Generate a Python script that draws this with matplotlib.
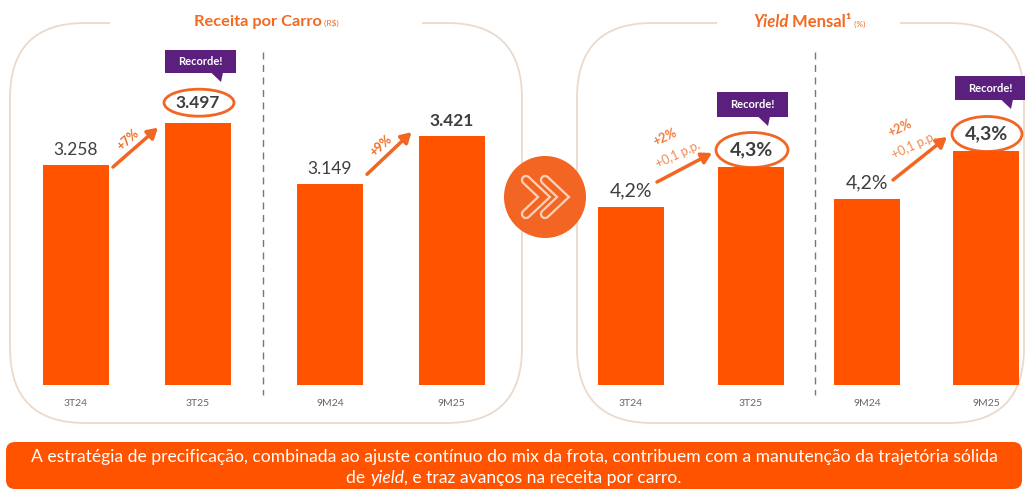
import matplotlib
matplotlib.use("Agg")
import matplotlib.pyplot as plt
from matplotlib.patches import FancyBboxPatch, Ellipse, Circle, Polygon, Rectangle
from matplotlib.offsetbox import TextArea, HPacker, AnnotationBbox

plt.rcParams['font.family'] = ['Lato', 'DejaVu Sans']

# ---------------- data ----------------
rev_categories = ['3T24', '3T25', '9M24', '9M25']
rev_values = [3258, 3497, 3149, 3421]
rev_labels = ['3.258', '3.497', '3.149', '3.421']
rev_growth = ['+7%', '+9%']

yield_categories = ['3T24', '3T25', '9M24', '9M25']
yield_values = [4.20, 4.30, 4.22, 4.34]
yield_growth = ['+2%', '+2%']
yield_pp = ['+0,1 p.p.', '+0,1 p.p.']

title_left = 'Receita por Carro'
title_left_unit = '(R$)'
title_right_it = 'Yield'
title_right = ' Mensal¹'
title_right_unit = ' (%)'
record_label = 'Recorde!'
banner_line1 = ('A estratégia de precificação, combinada ao ajuste contínuo do mix da frota, '
                'contribuem com a manutenção da trajetória sólida')
banner_line2 = ['de ', 'yield', ', e traz avanços na receita por carro.']

# ---------------- style ----------------
W, H = 1027, 491
ORANGE = '#FF5300'
TORANGE = '#F26A21'
PURPLE = '#5B1F7D'
BORDER = '#EBD9CC'
VALTXT = '#3F3F3F'
CATTXT = '#666666'
BANNER_FS = 12.6

fig = plt.figure(figsize=(W / 100, H / 100), dpi=100)
bg = fig.add_axes([0, 0, 1, 1])
bg.set_xlim(0, W)
bg.set_ylim(H, 0)
bg.axis('off')


def rect(x0, y0, x1, y1):
    return [x0 / W, 1 - y1 / H, (x1 - x0) / W, (y1 - y0) / H]


def to_px(ax, x, y):
    dx, dy = ax.transData.transform((x, y))
    return dx, H - dy


# panels
for (x0, y0, x1, y1) in [(10, 23, 522, 423), (577, 23, 1024, 423)]:
    bg.add_patch(FancyBboxPatch((x0, y0), x1 - x0, y1 - y0,
                                boxstyle='round,pad=0,rounding_size=75',
                                fc='white', ec=BORDER, lw=1.3, zorder=1))
# title gaps
bg.add_patch(Rectangle((110, 15), 312, 16, fc='white', ec='none', zorder=2))
bg.add_patch(Rectangle((717, 15), 183, 16, fc='white', ec='none', zorder=2))

# titles
t1 = HPacker(children=[TextArea(title_left, textprops=dict(color=TORANGE, fontsize=11.8, fontweight='bold')),
                       TextArea(' ' + title_left_unit.replace('$', r'\$'), textprops=dict(color=TORANGE, fontsize=6))],
             align='baseline', pad=0, sep=0)
bg.add_artist(AnnotationBbox(t1, (266, 22), frameon=False, box_alignment=(0.5, 0.5), zorder=3))
t2 = HPacker(children=[TextArea(title_right_it, textprops=dict(color=TORANGE, fontsize=12, fontweight='bold', style='italic')),
                       TextArea(title_right, textprops=dict(color=TORANGE, fontsize=12, fontweight='bold')),
                       TextArea(title_right_unit, textprops=dict(color=TORANGE, fontsize=6))],
             align='baseline', pad=0, sep=0)
bg.add_artist(AnnotationBbox(t2, (809, 22), frameon=False, box_alignment=(0.5, 0.5), zorder=3))

# dashed separators
for x in (263, 815):
    bg.plot([x, x], [52, 395], color='#777777', lw=1, ls=(0, (5, 4)), zorder=2)

# chevron circle
bg.add_patch(Circle((545, 197), 41, fc='#F26522', ec='none', zorder=5))
for dx in (0, 19):
    xs = [526 + dx, 544 + dx, 526 + dx]
    ys = [180, 197, 214]
    bg.plot(xs, ys, color='#FBD0B8', lw=7.5, solid_capstyle='round', solid_joinstyle='miter', zorder=6)
    bg.plot(xs, ys, color='#F26522', lw=4.2, solid_capstyle='round', solid_joinstyle='miter', zorder=7)

# banner
bg.add_patch(FancyBboxPatch((6, 442), 1016, 47, boxstyle='round,pad=0,rounding_size=9',
                            fc=ORANGE, ec='none', zorder=1))
bg.text(514, 457, banner_line1, color='white', fontsize=BANNER_FS, ha='center', va='center', zorder=3)
b2 = HPacker(children=[TextArea(banner_line2[0], textprops=dict(color='white', fontsize=BANNER_FS)),
                       TextArea(banner_line2[1], textprops=dict(color='white', fontsize=BANNER_FS, style='italic')),
                       TextArea(banner_line2[2], textprops=dict(color='white', fontsize=BANNER_FS))],
             align='baseline', pad=0, sep=0)
bg.add_artist(AnnotationBbox(b2, (514, 478), frameon=False, box_alignment=(0.5, 0.5), zorder=3))

# ---------------- bar axes ----------------
BAR_PX = 66
TOP_PX, BOT_PX = 23, 385


def group_axes(c0, c1, v0, scale):
    d = c1 - c0
    ax = fig.add_axes(rect(c0 - d / 2, TOP_PX, c1 + d / 2, BOT_PX))
    ax.set_xlim(-0.5, 1.5)
    ax.set_ylim(v0, v0 + (BOT_PX - TOP_PX) / scale)
    ax.axis('off')
    ax.patch.set_alpha(0)
    return ax, BAR_PX / d


rev_axes = [group_axes(76, 198, 2015, 0.177), group_axes(330, 451.5, 2015, 0.177)]
yld_axes = [group_axes(631, 751, 3.755, 400), group_axes(867, 986, 3.755, 400)]


def fmt_pct(v):
    return f'{v:.1f}'.replace('.', ',') + '%'


fig.canvas.draw()

for g, (ax, w) in enumerate(rev_axes):
    vals = rev_values[2 * g:2 * g + 2]
    cats = rev_categories[2 * g:2 * g + 2]
    labs = rev_labels[2 * g:2 * g + 2]
    ax.bar([0, 1], vals, width=w, color=ORANGE, zorder=2)
    for i in range(2):
        bx, by = to_px(ax, i, vals[i])
        bg.text(bx, 403, cats[i], ha='center', va='center', fontsize=7.5, color=CATTXT, zorder=4)
        off = 20 if (g == 0 and i == 1) else 15
        bg.text(bx, by - off, labs[i], ha='center', va='center', fontsize=12.5,
                fontweight='bold' if i == 1 else 'normal', color=VALTXT, zorder=4)
    # arrow
    x0, y0 = to_px(ax, 0, vals[0])
    x1, y1 = to_px(ax, 1, vals[1])
    sx, sy = x0 + BAR_PX / 2 + 4, y0 + (2 if g == 0 else -10)
    ex, ey = x1 - BAR_PX / 2 - 7, y1 + (5 if g == 0 else -4)
    bg.annotate('', xy=(ex, ey), xytext=(sx, sy),
                arrowprops=dict(arrowstyle='-|>,head_length=0.6,head_width=0.35', color='#F26522', lw=2.5,
                                shrinkA=0, shrinkB=0), zorder=4)
    bg.text((sx + ex) / 2 - 8, (sy + ey) / 2 - 8, rev_growth[g], rotation=42, ha='center', va='center',
            fontsize=9, fontweight='bold', color=TORANGE, zorder=4, rotation_mode='anchor')

for g, (ax, w) in enumerate(yld_axes):
    vals = yield_values[2 * g:2 * g + 2]
    cats = yield_categories[2 * g:2 * g + 2]
    ax.bar([0, 1], vals, width=w, color=ORANGE, zorder=2)
    for i in range(2):
        bx, by = to_px(ax, i, vals[i])
        bg.text(bx, 403, cats[i], ha='center', va='center', fontsize=7.5, color=CATTXT, zorder=4)
        off = (17 if i == 1 else 16)
        bg.text(bx, by - off, fmt_pct(vals[i]), ha='center', va='center', fontsize=14,
                fontweight='bold' if i == 1 else 'normal', color=VALTXT, zorder=4)
    x0, y0 = to_px(ax, 0, vals[0])
    x1, y1 = to_px(ax, 1, vals[1])
    sx, sy = x0 + 26, y0 - 25 + (0 if g == 0 else 6)
    ex, ey = x1 - 39, y1 - 14
    bg.annotate('', xy=(ex, ey), xytext=(sx, sy),
                arrowprops=dict(arrowstyle='-|>,head_length=0.6,head_width=0.35', color='#F26522', lw=2.5,
                                shrinkA=0, shrinkB=0), zorder=4)
    mx, my = (sx + ex) / 2, (sy + ey) / 2
    bg.text(mx - 20, my - 30, yield_growth[g], rotation=25, ha='center', va='center',
            fontsize=9, fontweight='bold', color='#F07A3A', zorder=4, rotation_mode='anchor')
    bg.text(mx - 6, my - 13, yield_pp[g], rotation=25, ha='center', va='center',
            fontsize=9, color='#F08A50', zorder=4, rotation_mode='anchor')

# ellipses around record values
def ellipse_for(ax, i, v, off, w, h):
    bx, by = to_px(ax, i, v)
    bg.add_patch(Ellipse((bx + 1, by - off), w, h, fc='none', ec='#F26522', lw=2, zorder=4))

ellipse_for(rev_axes[0][0], 1, rev_values[1], 20, 70, 27)
ellipse_for(yld_axes[0][0], 1, yield_values[1], 17, 72, 35)
ellipse_for(yld_axes[1][0], 1, yield_values[3], 17, 70, 35)

# "Recorde!" callouts
def record_box(x0, y0, x1, y1, tipx):
    bg.add_patch(Rectangle((x0, y0), x1 - x0, y1 - y0, fc=PURPLE, ec='none', zorder=5))
    bg.add_patch(Polygon([(tipx - 7, y1 - 0.5), (tipx + 5, y1 - 0.5), (tipx + 3, y1 + 9)],
                         closed=True, fc=PURPLE, ec='none', zorder=5))
    bg.text((x0 + x1) / 2, (y0 + y1) / 2, record_label, ha='center', va='center', fontsize=8,
            fontweight='bold', color='white', zorder=6)

record_box(165, 50, 236, 73, 218)
record_box(717, 92, 788, 117, 765)
record_box(955, 76, 1025, 100, 1008)

fig.savefig('out.png', dpi=100)
